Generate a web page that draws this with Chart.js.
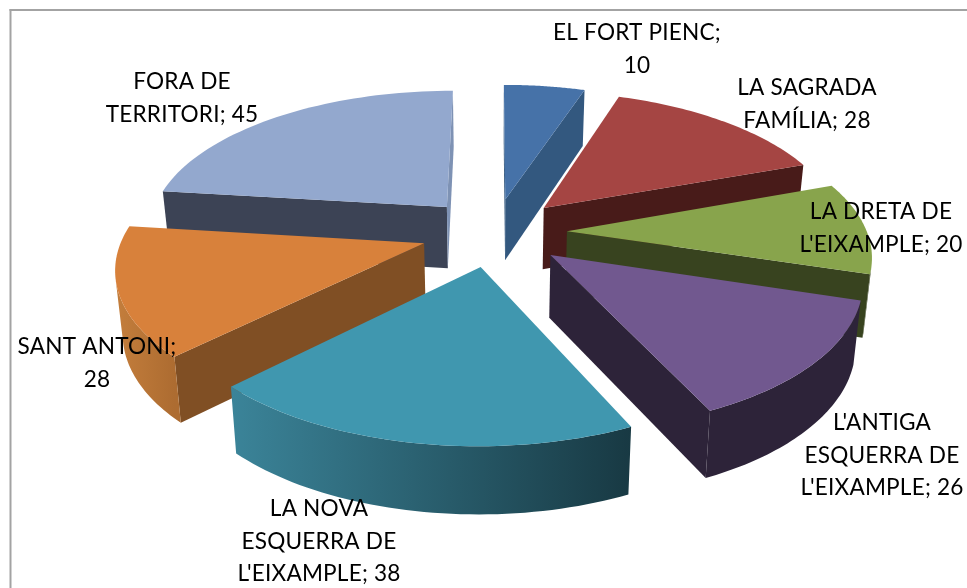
<!DOCTYPE html>
<html>
<head>
<meta charset="utf-8">
<style>html,body{margin:0;padding:0;background:#fff}canvas{display:block}</style>
<script src="https://cdn.jsdelivr.net/npm/chart.js@4"></script>
</head>
<body>
<canvas id="c" width="967" height="588"></canvas>
<script>
const categories = ["EL FORT PIENC","LA SAGRADA FAMÍLIA","LA DRETA DE L'EIXAMPLE","L'ANTIGA ESQUERRA DE L'EIXAMPLE","LA NOVA ESQUERRA DE L'EIXAMPLE","SANT ANTONI","FORA DE TERRITORI"];
const values = [10,28,20,26,38,28,45];
const topColors = ["#4672a8","#a54543","#88a44c","#71588f","#4097af","#d8813b","#93a8ce"];
const sideColors = ["#33587f","#481b19","#38431f","#2d2339","#1f4a57","#804f24","#3c4355"];
const endColors = ["#33587f","#481b19","#38431f","#2d2339","#1f4a57","#804f24","#7e92b4"];
const wallLeft = ["#33587f","#481b19","#3f4d22","#2d2339","#3b8499","#c47e3c","#3c4355"];
const wallRight = ["#33587f","#481b19","#38431f","#2d2339","#183943","#ad6c31","#3c4355"];
const labelLines = [
  ["EL FORT PIENC;","10"],
  ["LA SAGRADA","FAMÍLIA; 28"],
  ["LA DRETA DE","L'EIXAMPLE; 20"],
  ["L'ANTIGA","ESQUERRA DE","L'EIXAMPLE; 26"],
  ["LA NOVA","ESQUERRA DE","L'EIXAMPLE; 38"],
  ["SANT ANTONI;","28"],
  ["FORA DE","TERRITORI; 45"]
];
const labelAnchors = [[637,40],[807,95],[881,219],[882,430],[319,516],[97,354],[182,89]];
const labelLeading = 32.5;
const persp = 0.15, squash = 0.469, shrink = 0.98;

function project(el, u, v, bottom){
  const R = el.outerRadius, d = 1 - persp*v;
  let x = R*u/d, y = R*squash*v/d;
  if(bottom){ x *= shrink; y += 62 + 5*v; }
  return {x: el.x + x, y: el.y + y};
}
function area(p){let s=0;for(let i=0;i<p.length;i++){const a=p[i],b=p[(i+1)%p.length];s+=a.x*b.y-b.x*a.y;}return s;}
function poly(ctx,q){ctx.beginPath();q.forEach((p,i)=>i?ctx.lineTo(p.x,p.y):ctx.moveTo(p.x,p.y));ctx.closePath();ctx.fill();}

const pie3d = {
  id:'pie3d',
  beforeDraw(chart){
    const ctx = chart.ctx;
    ctx.save();
    ctx.fillStyle='#fff';ctx.fillRect(0,0,chart.width,chart.height);
    ctx.fillStyle='#a3a3a3';
    ctx.fillRect(9.5,9,chart.width,2);
    ctx.fillRect(9.5,9,2,chart.height);
    ctx.restore();
  },
  beforeDatasetDraw(chart,args){
    const ctx = chart.ctx, meta = chart.getDatasetMeta(args.index);
    const order = meta.data.map((el,i)=>i).sort((a,b)=>{
      const ma=(meta.data[a].startAngle+meta.data[a].endAngle)/2, mb=(meta.data[b].startAngle+meta.data[b].endAngle)/2;
      return Math.sin(ma)-Math.sin(mb);
    });
    ctx.save();
    order.forEach(i=>{
      const el = meta.data[i], R = el.outerRadius;
      const mid = (el.startAngle+el.endAngle)/2, off = el.options.offset/R;
      const cu = off*Math.cos(mid), cv = off*Math.sin(mid);
      const pts = [[cu,cv]];
      const n = 48;
      for(let k=0;k<=n;k++){
        const a = el.startAngle + (el.endAngle-el.startAngle)*k/n;
        pts.push([cu+Math.cos(a),cv+Math.sin(a)]);
      }
      const top = pts.map(p=>project(el,p[0],p[1],false));
      const bot = pts.map(p=>project(el,p[0],p[1],true));
      const sign = Math.sign(area(top));
      const xs = top.slice(1).map(p=>p.x);
      const grad = ctx.createLinearGradient(Math.min(...xs),0,Math.max(...xs),0);
      grad.addColorStop(0,wallLeft[i]);grad.addColorStop(1,wallRight[i]);
      // radial faces
      [[0,1,sideColors[i]],[pts.length-1,0,endColors[i]]].forEach(([a,b,col])=>{
        const q=[top[a],top[b],bot[b],bot[a]];
        if(Math.sign(area(q))!==sign){ctx.fillStyle=col;poly(ctx,q);}
      });
      // outer wall as continuous strips of viewer-facing segments
      ctx.fillStyle=grad;
      let run=null;
      const flush=()=>{ if(run&&run.length>1){poly(ctx,run.map(k=>top[k]).concat(run.slice().reverse().map(k=>bot[k])));} run=null; };
      for(let k=1;k<pts.length-1;k++){
        const q=[top[k],top[k+1],bot[k+1],bot[k]];
        if(Math.sign(area(q))!==sign){ if(!run) run=[k]; run.push(k+1);} else flush();
      }
      flush();
      // top face
      ctx.fillStyle=el.options.backgroundColor;
      poly(ctx,top);
    });
    ctx.restore();
    return false;
  },
  afterDraw(chart){
    const ctx = chart.ctx;
    ctx.save();
    ctx.fillStyle='#000';
    ctx.font='22.6px Lato, "Open Sans", sans-serif';
    ctx.letterSpacing='0.2px';
    ctx.textAlign='center';ctx.textBaseline='alphabetic';
    labelLines.forEach((lines,i)=>{
      lines.forEach((t,j)=>ctx.fillText(t,labelAnchors[i][0],labelAnchors[i][1]+j*labelLeading));
    });
    ctx.restore();
  }
};

new Chart(document.getElementById('c'),{
  type:'pie',
  data:{labels:categories,datasets:[{data:values,backgroundColor:topColors,borderWidth:0,offset:73}]},
  options:{
    responsive:false,animation:false,devicePixelRatio:1,
    radius:300,
    layout:{padding:{left:21,bottom:124}},
    plugins:{legend:{display:false},tooltip:{enabled:false}}
  },
  plugins:[pie3d]
});
</script>
</body>
</html>
